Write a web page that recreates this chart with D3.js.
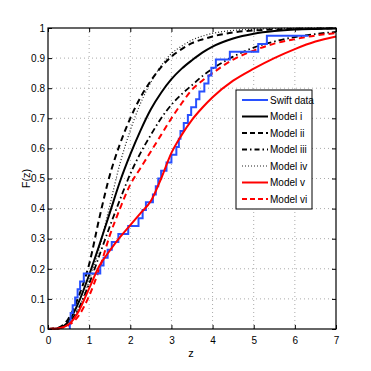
<!DOCTYPE html>
<html>
<head>
<meta charset="utf-8">
<script src="https://cdn.jsdelivr.net/npm/d3@7"></script>
<style>
  body { margin: 0; background: #fff; }
  text { font-family: "Liberation Sans Narrow", "Liberation Sans", Arial, sans-serif; }
</style>
</head>
<body>
<script>
// values
var xTicks = [0, 1, 2, 3, 4, 5, 6, 7];
var yTicks = [0, 0.1, 0.2, 0.3, 0.4, 0.5, 0.6, 0.7, 0.8, 0.9, 1];

// Swift data empirical CDF: where each step happens and the level after it
var swiftZ = [0.53, 0.55, 0.60, 0.66, 0.72, 0.78, 0.87, 1.27, 1.35, 1.45, 1.55, 1.71, 1.95,
              2.20, 2.30, 2.38, 2.55, 2.62, 2.68, 2.75, 2.88, 3.00, 3.12, 3.18, 3.22, 3.30,
              3.40, 3.48, 3.60, 3.68, 3.80, 3.90, 3.97, 4.08, 4.42, 5.11, 5.32];
var swiftF = [0.026, 0.053, 0.079, 0.105, 0.132, 0.158, 0.184, 0.211, 0.237, 0.263, 0.289,
              0.316, 0.342, 0.368, 0.395, 0.421, 0.447, 0.474, 0.500, 0.526, 0.553, 0.579,
              0.605, 0.632, 0.658, 0.684, 0.711, 0.737, 0.763, 0.789, 0.816, 0.842, 0.868,
              0.895, 0.921, 0.947, 0.974];
var swiftEnd = 6.33;

// model CDFs, sampled at modelZ
var modelZ   = [0, 0.25, 0.5, 0.75, 1, 1.25, 1.5, 1.75, 2, 2.25, 2.5, 2.75, 3, 3.25, 3.5, 3.75, 4, 4.5, 5, 5.5, 6, 6.5, 7];
var modelI   = [0, 0.002, 0.025, 0.09, 0.18, 0.28, 0.385, 0.49, 0.58, 0.66, 0.73, 0.785, 0.83, 0.865, 0.893, 0.918, 0.938, 0.965, 0.981, 0.99, 0.995, 0.997, 0.998];
var modelII  = [0, 0.004, 0.035, 0.11, 0.215, 0.37, 0.51, 0.615, 0.70, 0.77, 0.825, 0.87, 0.905, 0.93, 0.95, 0.962, 0.972, 0.985, 0.992, 0.995, 0.997, 0.998, 0.999];
var modelIII = [0, 0.003, 0.02, 0.07, 0.15, 0.245, 0.34, 0.43, 0.515, 0.585, 0.645, 0.70, 0.745, 0.78, 0.81, 0.84, 0.865, 0.905, 0.935, 0.955, 0.97, 0.98, 0.987];
var modelIV  = [0, 0.001, 0.015, 0.07, 0.16, 0.27, 0.41, 0.55, 0.66, 0.75, 0.82, 0.875, 0.915, 0.94, 0.96, 0.973, 0.982, 0.992, 0.996, 0.998, 0.999, 1.0, 1.0];
var modelV   = [0, 0.002, 0.015, 0.06, 0.135, 0.21, 0.26, 0.305, 0.345, 0.385, 0.425, 0.50, 0.585, 0.645, 0.695, 0.735, 0.77, 0.825, 0.865, 0.90, 0.93, 0.955, 0.972];
var modelVI  = [0, 0.002, 0.012, 0.045, 0.11, 0.20, 0.31, 0.40, 0.48, 0.535, 0.59, 0.645, 0.70, 0.75, 0.795, 0.825, 0.85, 0.895, 0.925, 0.948, 0.963, 0.975, 0.983];

var seriesNames = ["Swift data", "Model i", "Model ii", "Model iii", "Model iv", "Model v", "Model vi"];

var margin = { top: 28, right: 35, bottom: 42, left: 48 },
  width = 371 - margin.left - margin.right,
  height = 371 - margin.top - margin.bottom;

var svg = d3.select("body").append("svg")
    .attr("width", 371)
    .attr("height", 371)
  .append("g")
    .attr("transform", "translate(" + margin.left + "," + margin.top + ")");

var x = d3.scaleLinear().domain([0, 7]).range([0, width]);
var y = d3.scaleLinear().domain([0, 1]).range([height, 0]);

// dotted grid
svg.append("g").selectAll("line")
    .data(xTicks.slice(1, -1))
  .enter().append("line")
    .attr("x1", function(d) { return x(d); })
    .attr("x2", function(d) { return x(d); })
    .attr("y1", 0).attr("y2", height)
    .attr("stroke", "#aaa").attr("stroke-width", 1)
    .attr("stroke-dasharray", "1,3");
svg.append("g").selectAll("line")
    .data(yTicks.slice(1, -1))
  .enter().append("line")
    .attr("y1", function(d) { return y(d); })
    .attr("y2", function(d) { return y(d); })
    .attr("x1", 0).attr("x2", width)
    .attr("stroke", "#aaa").attr("stroke-width", 1)
    .attr("stroke-dasharray", "1,3");

// curves
var line = d3.line()
  .x(function(d) { return x(d[0]); })
  .y(function(d) { return y(d[1]); })
  .curve(d3.curveMonotoneX);

function pairs(vals) { return modelZ.map(function(z, i) { return [z, vals[i]]; }); }

var models = [
  { vals: modelIV,  color: "#222", w: 1.2, dash: "1,2" },
  { vals: modelIII, color: "#000", w: 1.8, dash: "6,3,1.5,3" },
  { vals: modelII,  color: "#000", w: 2,   dash: "6,4" },
  { vals: modelI,   color: "#000", w: 2,   dash: null },
  { vals: modelVI,  color: "#f00", w: 2,   dash: "6,4" }
];

models.forEach(function(m) {
  svg.append("path")
    .datum(pairs(m.vals))
    .attr("d", line)
    .attr("fill", "none")
    .attr("stroke", m.color)
    .attr("stroke-width", m.w)
    .attr("stroke-dasharray", m.dash);
});

// swift stairs
var steps = [[swiftZ[0], 0]];
swiftZ.forEach(function(z, i) { steps.push([z, swiftF[i]]); });
steps.push([swiftEnd, swiftF[swiftF.length - 1]]);

svg.append("path")
  .datum(steps)
  .attr("d", d3.line()
    .x(function(d) { return x(d[0]); })
    .y(function(d) { return y(d[1]); })
    .curve(d3.curveStepAfter))
  .attr("fill", "none")
  .attr("stroke", "#2850ff")
  .attr("stroke-width", 2);

svg.append("path")
  .datum(pairs(modelV))
  .attr("d", line)
  .attr("fill", "none")
  .attr("stroke", "#f00")
  .attr("stroke-width", 2);

// axes, ticks inside
var fmt = d3.format("~g");
svg.append("g")
  .attr("transform", "translate(0," + height + ")")
  .call(d3.axisBottom(x).tickValues(xTicks).tickSizeInner(-4).tickSizeOuter(0).tickPadding(8).tickFormat(fmt));
svg.append("g")
  .call(d3.axisLeft(y).tickValues(yTicks).tickSizeInner(-4).tickSizeOuter(0).tickPadding(3).tickFormat(fmt));
svg.append("g")
  .call(d3.axisTop(x).tickValues(xTicks).tickSizeInner(-4).tickSizeOuter(0).tickFormat(""));
svg.append("g")
  .attr("transform", "translate(" + width + ",0)")
  .call(d3.axisRight(y).tickValues(yTicks).tickSizeInner(-4).tickSizeOuter(0).tickFormat(""));

svg.selectAll(".domain").remove();
svg.selectAll(".tick text").attr("font-size", "10px").attr("fill", "#000")
  .style("font-family", "'Liberation Sans Narrow', 'Liberation Sans', Arial, sans-serif");

svg.append("rect")
  .attr("width", width).attr("height", height)
  .attr("fill", "none").attr("stroke", "#000").attr("stroke-width", 1.2);

// axis titles
svg.append("text")
  .attr("x", width / 2 - 1)
  .attr("y", height + 28)
  .attr("text-anchor", "middle")
  .attr("font-size", "11px")
  .text("z");
svg.append("text")
  .attr("transform", "translate(" + (-18) + "," + (height / 2) + ") rotate(-90)")
  .attr("text-anchor", "middle")
  .attr("font-size", "11px")
  .text("F(z)");

// legend
var legStyles = [
  { color: "#2850ff", dash: null, w: 2 },
  { color: "#000", dash: null, w: 2 },
  { color: "#000", dash: "5,3", w: 2 },
  { color: "#000", dash: "5,3,1.5,3", w: 1.8 },
  { color: "#222", dash: "1,2", w: 1.2 },
  { color: "#f00", dash: null, w: 2 },
  { color: "#f00", dash: "5,3", w: 2 }
];

var legend = svg.append("g").attr("transform", "translate(" + (236 - margin.left) + "," + (90 - margin.top) + ")");
legend.append("rect")
  .attr("width", 76).attr("height", 119)
  .attr("fill", "#fff").attr("stroke", "#000").attr("stroke-width", 1);

var rows = legend.selectAll(".row")
    .data(seriesNames)
  .enter().append("g")
    .attr("transform", function(d, i) { return "translate(0," + (10 + i * 16.5) + ")"; });
rows.append("line")
  .attr("x1", 6).attr("x2", 32)
  .attr("stroke", function(d, i) { return legStyles[i].color; })
  .attr("stroke-width", function(d, i) { return legStyles[i].w; })
  .attr("stroke-dasharray", function(d, i) { return legStyles[i].dash; });
rows.append("text")
  .attr("x", 34)
  .attr("dy", "0.35em")
  .attr("font-size", "10px")
  .text(function(d) { return d; });
</script>
</body>
</html>
